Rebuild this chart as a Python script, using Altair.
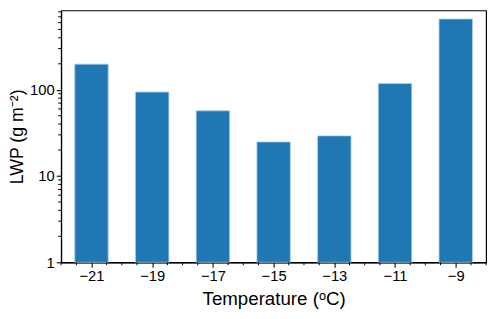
import altair as alt
import pandas as pd

temps = [-21, -19, -17, -15, -13, -11, -9]
lwp = [198, 94, 57, 24.8, 29.2, 118, 660]

x_major = [-21, -19, -17, -15, -13, -11, -9]
x_minor = [-22, -21.5, -20.5, -20, -19.5, -18.5, -18, -17.5, -16.5, -16, -15.5,
           -14.5, -14, -13.5, -12.5, -12, -11.5, -10.5, -10, -9.5, -8.5, -8]
y_major = [1, 10, 100]
y_minor = [2, 3, 4, 5, 6, 7, 8, 9, 20, 30, 40, 50, 60, 70, 80, 90,
           200, 300, 400, 500, 600, 700, 800]

df = pd.DataFrame({"t": temps, "lwp": lwp})
dfx = pd.DataFrame({"xm": x_minor})
dfy = pd.DataFrame({"ym": y_minor})

FONT = "Liberation Sans"
W, H = 432, 256
xscale = alt.Scale(domain=[-22, -8], nice=False, zero=False)
yscale = alt.Scale(type="log", domain=[1, 830], nice=False)

xaxis = alt.Axis(values=x_major, format="d", title="Temperature (ᵒC)",
                 orient="bottom", grid=False, tickSize=5, tickWidth=1.1,
                 tickColor="black", domainColor="black", domainWidth=1.2,
                 labelFont=FONT, labelFontSize=15, labelColor="black",
                 labelPadding=2, titleFont=FONT, titleFontSize=19,
                 titleFontWeight="normal", titleColor="black", titlePadding=6)
yaxis = alt.Axis(values=y_major, format="d", title="LWP (g m⁻²)",
                 orient="left", grid=False, tickSize=5, tickWidth=1.1,
                 tickColor="black", domainColor="black", domainWidth=1.2,
                 labelFont=FONT, labelFontSize=15, labelColor="black",
                 labelPadding=2, titleFont=FONT, titleFontSize=18,
                 titleFontWeight="normal", titleColor="black", titlePadding=3)

bars = alt.Chart(df).transform_calculate(
    x0="datum.t - 0.55", x1="datum.t + 0.55"
).mark_bar(color="#1f77b4", stroke="#a9cbe6", strokeWidth=0.8).encode(
    x=alt.X("x0:Q", scale=xscale, axis=xaxis),
    x2="x1:Q",
    y=alt.Y("lwp:Q", scale=yscale, axis=yaxis),
    y2=alt.datum(1),
)

xminor = alt.Chart(dfx).mark_rule(color="black", strokeWidth=1, clip=False).encode(
    x=alt.X("xm:Q", scale=xscale, axis=None),
    y=alt.value(H),
    y2=alt.value(H + 3),
)

yminor = alt.Chart(dfy).mark_rule(color="black", strokeWidth=1, clip=False).encode(
    y=alt.Y("ym:Q", scale=yscale, axis=None),
    x=alt.value(0),
    x2=alt.value(-3),
)

chart = alt.layer(bars, xminor, yminor).resolve_axis(
    x="independent", y="independent"
).properties(
    width=W, height=H,
    autosize=alt.AutoSizeParams(type="none"),
    padding={"left": 54, "top": 0, "right": 6, "bottom": 47},
).configure_view(stroke="black", strokeWidth=1.2)

chart.save("out.html", embed_options={"renderer": "svg", "actions": False})
